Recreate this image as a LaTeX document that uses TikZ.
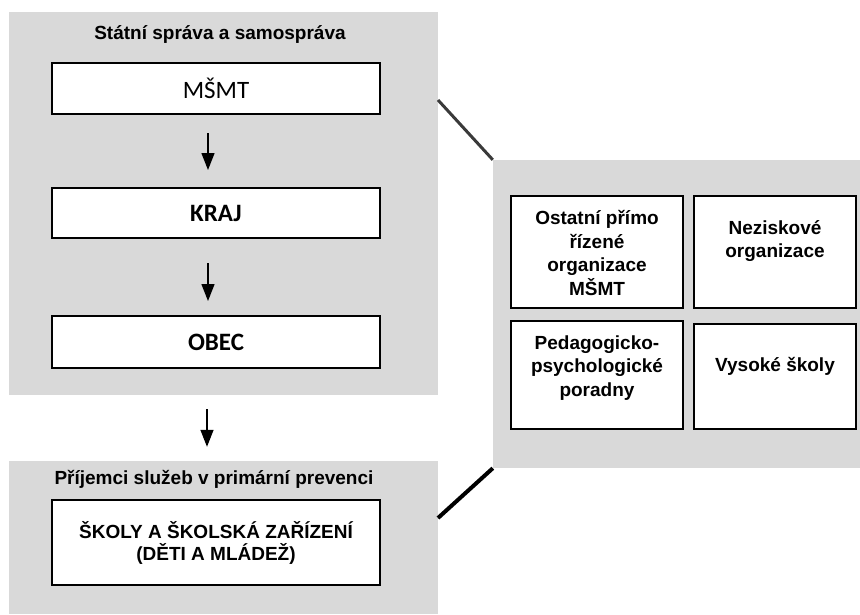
\documentclass[tikz,border=0pt]{standalone}
\usepackage{fontspec}
\setmainfont{Liberation Sans}
\newfontfamily\calibfont{Carlito}
\usetikzlibrary{arrows.meta}
\definecolor{panelgray}{HTML}{D9D9D9}
\definecolor{linkgray}{HTML}{3A3A3A}
\tikzset{
  panelbox/.style={fill=panelgray, draw=none, inner sep=0pt},
  whitebox/.style={draw=black, line width=2pt, fill=white, inner sep=0pt, align=center},
  titletext/.style={inner sep=0pt, font=\bfseries\fontsize{19}{23}\selectfont},
  calibtext/.style={font=\calibfont\fontsize{25}{28}\selectfont},
  calibbold/.style={font=\calibfont\bfseries\fontsize{25}{28}\selectfont},
  boxtext/.style={inner sep=0pt, align=center, font=\bfseries\fontsize{19}{23.5}\selectfont},
  flowarrow/.style={line width=1.4pt, -{Triangle[width=13pt,length=17pt]}},
  toplink/.style={line width=3pt, draw=linkgray},
  botlink/.style={line width=4pt, draw=black},
}
\begin{document}
\begin{tikzpicture}[x=1pt,y=-1pt]
\useasboundingbox (0,0) rectangle (860,614);
% panels
\node[panelbox, minimum width=429pt, minimum height=383pt] (toppanel) at (223.5,203.5) {};
\node[panelbox, minimum width=429pt, minimum height=153pt] (botpanel) at (223.5,537.5) {};
\node[panelbox, minimum width=367pt, minimum height=308pt] (rightpanel) at (676.5,314) {};
% titles
\node[titletext] (title1) at (220,34) {Státní správa a samospráva};
\node[titletext] (title2) at (214,479) {Příjemci služeb v primární prevenci};
% left boxes
\node[whitebox, calibtext, minimum width=328pt, minimum height=51pt] (msmt) at (216,88.5) {MŠMT};
\node[whitebox, calibbold, minimum width=328pt, minimum height=50pt] (kraj) at (216,213) {KRAJ};
\node[whitebox, calibbold, minimum width=328pt, minimum height=52pt] (obec) at (216,342) {OBEC};
\node[whitebox, minimum width=328pt, minimum height=85pt, font=\bfseries\fontsize{19}{22}\selectfont] (skoly) at (216,542.5) {ŠKOLY A ŠKOLSKÁ ZAŘÍZENÍ\\(DĚTI A MLÁDEŽ)};
% arrows
\draw[flowarrow] ([xshift=-8pt,yshift=-18pt]msmt.south) -- ([xshift=-8pt,yshift=17pt]kraj.north);
\draw[flowarrow] ([xshift=-8pt,yshift=-24pt]kraj.south) -- ([xshift=-8pt,yshift=14pt]obec.north);
\draw[flowarrow] ([xshift=-9pt,yshift=-40pt]obec.south) -- ([xshift=-9pt,yshift=14pt]obec.south |- botpanel.north);
% right boxes
\node[whitebox, minimum width=172pt, minimum height=112pt] (ostatni) at (597,252) {};
\node[whitebox, minimum width=162pt, minimum height=112pt] (nezisk) at (775,252) {};
\node[whitebox, minimum width=172pt, minimum height=108pt] (ppp) at (597,375) {};
\node[whitebox, minimum width=162pt, minimum height=105pt] (vs) at (775,376.5) {};
\node[boxtext] (ostatnitext) at (597,253) {Ostatní přímo\\řízené\\organizace\\MŠMT};
\node[boxtext] (nezisktext) at (775,241) {Neziskové\\organizace};
\node[boxtext] (ppptext) at (597,368) {Pedagogicko-\\psychologické\\poradny};
\node[boxtext] (vstext) at (775,366) {Vysoké školy};
% links
\coordinate (linkA) at (438,100);
\coordinate (linkB) at (438,518);
\draw[toplink] (linkA) -- (rightpanel.north west);
\draw[botlink] (rightpanel.south west) -- (linkB);
\end{tikzpicture}
\end{document}
